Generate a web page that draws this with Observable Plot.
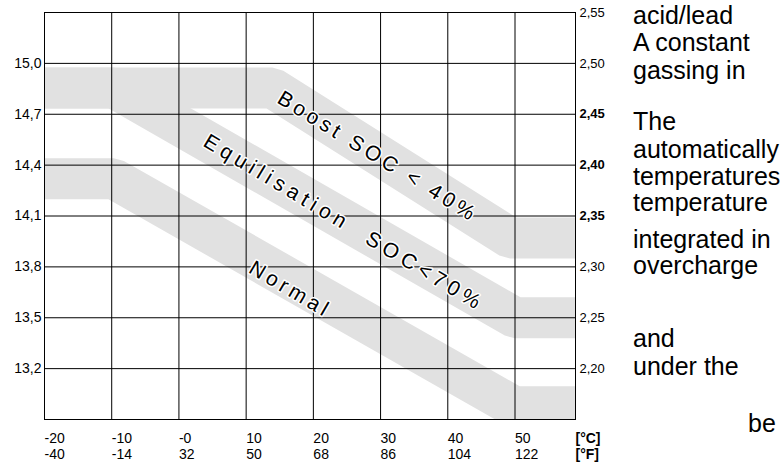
<!DOCTYPE html>
<html><head><meta charset="utf-8">
<script src="https://cdn.jsdelivr.net/npm/d3@7"></script>
<script src="https://cdn.jsdelivr.net/npm/@observablehq/plot@0.6"></script>
<style>
html,body{margin:0;padding:0;background:#fff;}
#chart{width:784px;height:468px;overflow:hidden;}
</style></head><body><div id="chart"></div>
<script>
// x: temperature (°C), y: battery voltage (V, 12 V system); right axis = V per cell
const tempC = [-20, -10, 0, 10, 20, 30, 40, 50];
const tempCLabels = ["-20", "-10", "-0", "10", "20", "30", "40", "50"];
const tempFLabels = ["-40", "-14", "32", "50", "68", "86", "104", "122"];
const unitLabels = ["[°C]", "[°F]"];
const voltTicks = [13.2, 13.5, 13.8, 14.1, 14.4, 14.7, 15.0];
const cellTicks = [2.20, 2.25, 2.30, 2.35, 2.40, 2.45, 2.50, 2.55];
const cellBold = [false, false, false, true, true, true, false, false];
const cellsPerBattery = 6;

// band centre lines [°C, V]
const boostBand = [[-20, 14.855], [13.9, 14.855], [49.3, 13.97], [59, 13.97]];
const equalBand = [[-20, 14.855], [-9.65, 14.855], [50, 13.50], [59, 13.50]];
const normalBand = [[-20, 14.32], [-9.7, 14.32], [49.9, 12.975], [59, 12.975]];

const bandNames = ["Boost SOC < 40%", "Equilisation  SOC<70%", "Normal"];
const bandNameC = [29.6, 24.6, 16.6];
const bandNameV = [14.45, 14.06, 13.667];
const bandNameAngle = [31.5, 31, 30.5];
const bandNameSpacing = [4, 5, 4];

const sideLines = ["acid/lead", "A constant", "gassing in", "The", "automatically", "temperatures",
  "temperature", "integrated in", "overcharge", "and", "under the", "be"];
const sideX = [633, 633, 633, 633, 633, 633, 633, 633, 633, 633, 633, 748];
const sideY = [24, 51, 79, 130, 158, 185, 211, 248, 274, 347, 375, 432];

const grey = "#e1e1e1";
const fmt = (d, n) => d.toFixed(n).replace(".", ",");
const bandOpts = {x: d => d[0], y: d => d[1], stroke: grey, strokeWidth: 41, strokeLinejoin: "miter", strokeLinecap: "butt", clip: true};
const idx = d3.range(bandNames.length);

const chart = Plot.plot({
  width: 784,
  height: 468,
  marginLeft: 44,
  marginRight: 209,
  marginTop: 12,
  marginBottom: 49,
  style: {fontFamily: "'Liberation Sans', Arial, sans-serif", background: "#fff", overflow: "visible"},
  x: {domain: [-20, 59], axis: null},
  y: {domain: [12.9, 15.3], axis: null},
  marks: [
    Plot.line(normalBand, bandOpts),
    Plot.line(equalBand, bandOpts),
    Plot.line(boostBand, bandOpts),
    Plot.ruleX(tempC, {stroke: "#000", strokeWidth: 1}),
    Plot.ruleY(voltTicks, {stroke: "#000", strokeWidth: 1}),
    Plot.frame({stroke: "#000", strokeWidth: 1}),
    Plot.text(idx, {x: i => bandNameC[i], y: i => bandNameV[i], text: i => bandNames[i], rotate: i => bandNameAngle[i],
      fontSize: 21, fill: "#000", stroke: "#fff", strokeWidth: 3}),
    Plot.text(voltTicks, {frameAnchor: "left", y: d => d, text: d => fmt(d, 1), textAnchor: "end", dx: -3, fontSize: 14, fill: "#000"}),
    Plot.text(cellTicks, {filter: (d, i) => !cellBold[i], frameAnchor: "right", y: d => d * cellsPerBattery, text: d => fmt(d, 2), textAnchor: "start", dx: 4, fontSize: 13, fill: "#000"}),
    Plot.text(cellTicks, {filter: (d, i) => cellBold[i], frameAnchor: "right", y: d => d * cellsPerBattery, text: d => fmt(d, 2), textAnchor: "start", dx: 4, fontSize: 13, fontWeight: "bold", fill: "#000"}),
    Plot.text(tempC, {x: d => d, text: (d, i) => tempCLabels[i], frameAnchor: "bottom", dy: 23, textAnchor: "start", fontSize: 14, fill: "#000"}),
    Plot.text(tempC, {x: d => d, text: (d, i) => tempFLabels[i], frameAnchor: "bottom", dy: 39, textAnchor: "start", fontSize: 14, fill: "#000"}),
    Plot.text(unitLabels, {frameAnchor: "bottom-right", text: d => d, textAnchor: "start", fontSize: 14, fontWeight: "bold", fill: "#000",
      filter: (d, i) => i === 0, dy: 23}),
    Plot.text(unitLabels, {frameAnchor: "bottom-right", text: d => d, textAnchor: "start", fontSize: 14, fontWeight: "bold", fill: "#000",
      filter: (d, i) => i === 1, dy: 39})
  ]
});

const svg = d3.select(chart);
svg.selectAll("text")
  .filter(function () { return bandNames.includes(this.textContent); })
  .each(function () {
    const ls = bandNameSpacing[bandNames.indexOf(this.textContent)] + "px";
    d3.select(this).attr("letter-spacing", ls).style("letter-spacing", ls).style("white-space", "pre");
  });
sideLines.forEach((t, i) => {
  svg.append("text")
    .attr("x", sideX[i]).attr("y", sideY[i])
    .attr("text-anchor", "start")
    .attr("font-size", 25).attr("fill", "#000")
    .attr("font-family", "'Liberation Sans', Arial, sans-serif")
    .text(t);
});
document.getElementById("chart").appendChild(chart);
</script></body></html>
